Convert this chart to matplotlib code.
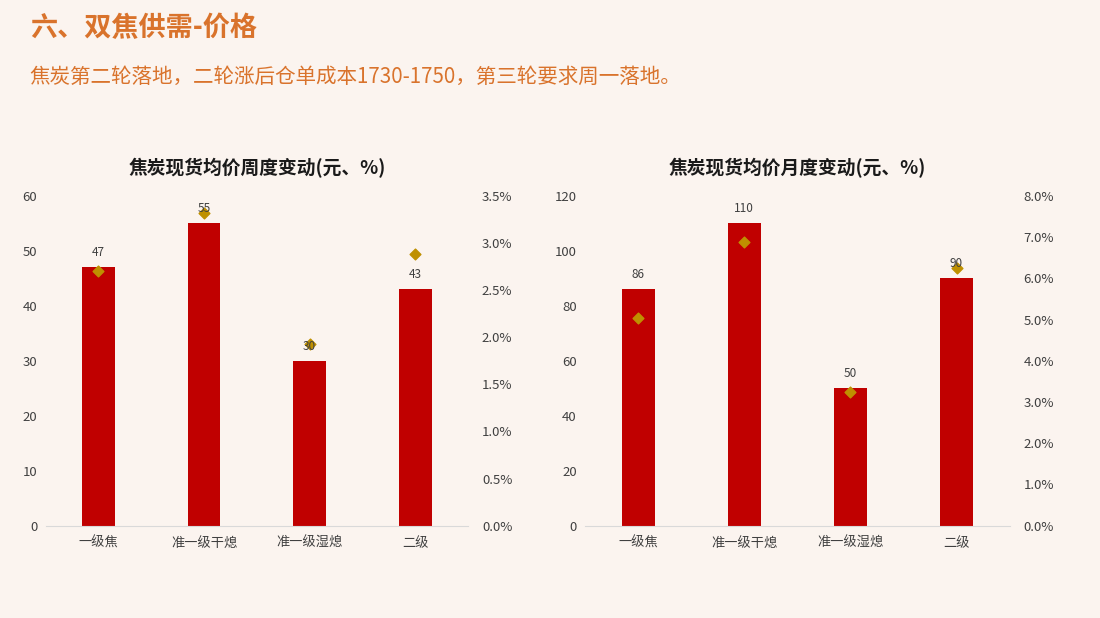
import matplotlib.pyplot as plt
from matplotlib.ticker import FuncFormatter

plt.rcParams['font.family'] = ['Noto Sans CJK SC', 'DejaVu Sans']

categories = ["一级焦", "准一级干熄", "准一级湿熄", "二级"]

# weekly change (yuan) and pct
week_chg = [47, 55, 30, 43]
week_pct = [2.7, 3.32, 1.93, 2.88]

# monthly change (yuan) and pct
month_chg = [86, 110, 50, 90]
month_pct = [5.05, 6.88, 3.24, 6.25]

bg = "#FBF4EF"
orange = "#D9732C"
bar_color = "#C00000"
dot_color = "#BF9000"
txt = "#404040"

fig = plt.figure(figsize=(11, 6.18), dpi=100, facecolor=bg)

fig.text(0.027, 0.955, "六、双焦供需-价格", fontsize=19.5, fontweight="bold",
         color=orange, va="center", ha="left")
fig.text(0.027, 0.875, "焦炭第二轮落地，二轮涨后仓单成本1730-1750，第三轮要求周一落地。",
         fontsize=14.8, color=orange, va="center", ha="left")


def draw_panel(rect, values, pcts, ymax, ystep, pmax, pstep, title):
    ax = fig.add_axes(rect)
    ax.set_facecolor(bg)
    x = range(len(categories))
    ax.bar(x, values, width=0.31, color=bar_color, zorder=2)
    ax.set_xlim(-0.5, len(categories) - 0.5)
    ax.set_ylim(0, ymax)
    ax.set_yticks(range(0, ymax + 1, ystep))
    ax.set_xticks(list(x))
    ax.set_xticklabels(categories, fontsize=9.5, color=txt)
    ax.tick_params(axis="y", length=0, labelsize=9.5, labelcolor=txt, pad=6)
    ax.tick_params(axis="x", length=0, pad=8)
    for s in ["top", "right", "left"]:
        ax.spines[s].set_visible(False)
    ax.spines["bottom"].set_color("#D9D9D9")

    ax2 = ax.twinx()
    ax2.scatter(list(x), pcts, marker="D", s=30, color=dot_color, zorder=3)
    # value labels drawn on the top axes so they sit over the diamonds
    for xi, v in zip(x, values):
        ax2.text(xi, v + ymax * 0.025, str(v), transform=ax.transData,
                 ha="center", va="bottom", fontsize=8.5, color=txt, zorder=6)
    ax2.set_ylim(0, pmax)
    n = int(round(pmax / pstep))
    ax2.set_yticks([i * pstep for i in range(n + 1)])
    ax2.yaxis.set_major_formatter(FuncFormatter(lambda v, p: f"{v:.1f}%"))
    ax2.tick_params(axis="y", length=0, labelsize=9.5, labelcolor=txt, pad=10)
    for s in ax2.spines.values():
        s.set_visible(False)
    ax.set_title(title, fontsize=13.5, fontweight="bold", color="#1a1a1a", pad=16)
    return ax


draw_panel([0.0415, 0.1494, 0.384, 0.5335], week_chg, week_pct, 60, 10, 3.5, 0.5,
           "焦炭现货均价周度变动(元、%)")
draw_panel([0.5318, 0.1494, 0.386, 0.5335], month_chg, month_pct, 120, 20, 8.0, 1.0,
           "焦炭现货均价月度变动(元、%)")

fig.savefig("out.png", dpi=100, facecolor=bg)
